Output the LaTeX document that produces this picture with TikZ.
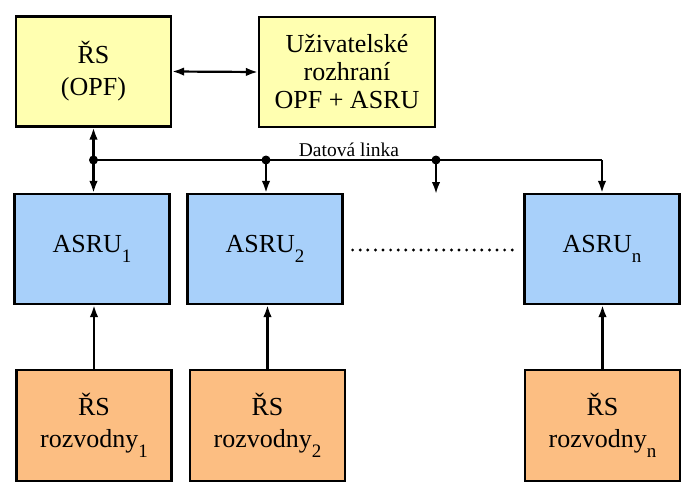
\documentclass[tikz,border=0pt]{standalone}
\usepackage{fontspec}
\setmainfont{Liberation Serif}
\newfontfamily\tnr{Liberation Serif}
\usetikzlibrary{arrows.meta}
\definecolor{cyel}{RGB}{255,255,176}
\definecolor{cblue}{RGB}{168,208,250}
\definecolor{corange}{RGB}{252,190,130}
\newcommand\sbs[1]{\raisebox{-0.36em}{\fontsize{19}{19}\selectfont #1}}
\begin{document}
\begin{tikzpicture}[x=1pt,y=-1pt,
  boxbase/.style={draw=black,line width=2.2pt,inner sep=0pt,align=center,
     font=\tnr\fontsize{26}{32}\selectfont,minimum width=155pt,minimum height=110pt},
  yelbox/.style={boxbase,fill=cyel},
  bluebox/.style={boxbase,fill=cblue},
  orbox/.style={boxbase,fill=corange},
  conn/.style={line width=2.2pt,-{Latex[length=12pt,width=8.5pt]}},
  bidi/.style={line width=2.2pt,{Latex[length=12pt,width=8.5pt]}-{Latex[length=12pt,width=8.5pt]}},
  busline/.style={line width=2.2pt},
  junction/.style={circle,fill=black,inner sep=0pt,minimum size=9pt}]
\useasboundingbox[fill=white] (0,0) rectangle (693,498);
% top boxes
\node[yelbox] (rs) at (93.5,71.5) {ŘS\\(OPF)};
\node[yelbox,minimum width=176pt,font=\tnr\fontsize{26}{28}\selectfont] (ui) at (347,72) {Uživatelské\\rozhraní\\OPF + ASRU};
% ASRU boxes
\node[bluebox] (a1) at (92,249) {ASRU\sbs{1}};
\node[bluebox] (a2) at (265,249) {ASRU\sbs{2}};
\node[bluebox] (an) at (602,249) {ASRU\sbs{n}};
% RS rozvodny
\node[orbox,minimum height=111pt] (r1) at (94,425.5) {ŘS\\rozvodny\sbs{1}};
\node[orbox,minimum height=111pt] (r2) at (267.5,425.5) {ŘS\\rozvodny\sbs{2}};
\node[orbox,minimum height=111pt] (rn) at (602.5,425.5) {ŘS\\rozvodny\sbs{n}};
% bus
\node[junction] (d1) at (93.5,160) {};
\node[junction] (d2) at (266,160) {};
\node[junction] (d3) at (436,160) {};
\coordinate (bc) at (602,160);
\coordinate (st) at (436,194);
\draw[busline] (d1.center) -- (d2.center) -- (d3.center) -- (bc);
\draw[conn] (bc) -- (an.north -| bc);
\draw[conn] (d1.center) -- (rs.south -| d1);
\draw[conn] (d1.center) -- (a1.north -| d1);
\draw[conn] (d2.center) -- (a2.north -| d2);
\draw[conn] (d3.center) -- (st);
\node[font=\tnr\fontsize{19.5}{20}\selectfont,anchor=base] (dl) at (349,156) {Datová linka};
% other connections
\draw[bidi] (rs.east) -- (ui.west);
\draw[conn] (r1.north) -- (a1.south -| r1.north);
\draw[conn] (r2.north) -- (a2.south -| r2.north);
\draw[conn] (rn.north) -- (an.south -| rn.north);
\draw[line width=3.2pt,line cap=round,dash pattern=on 0pt off 7.6pt] ([xshift=9pt,yshift=-1pt]a2.east) -- ([xshift=-6pt,yshift=-1pt]an.west);
\end{tikzpicture}
\end{document}
